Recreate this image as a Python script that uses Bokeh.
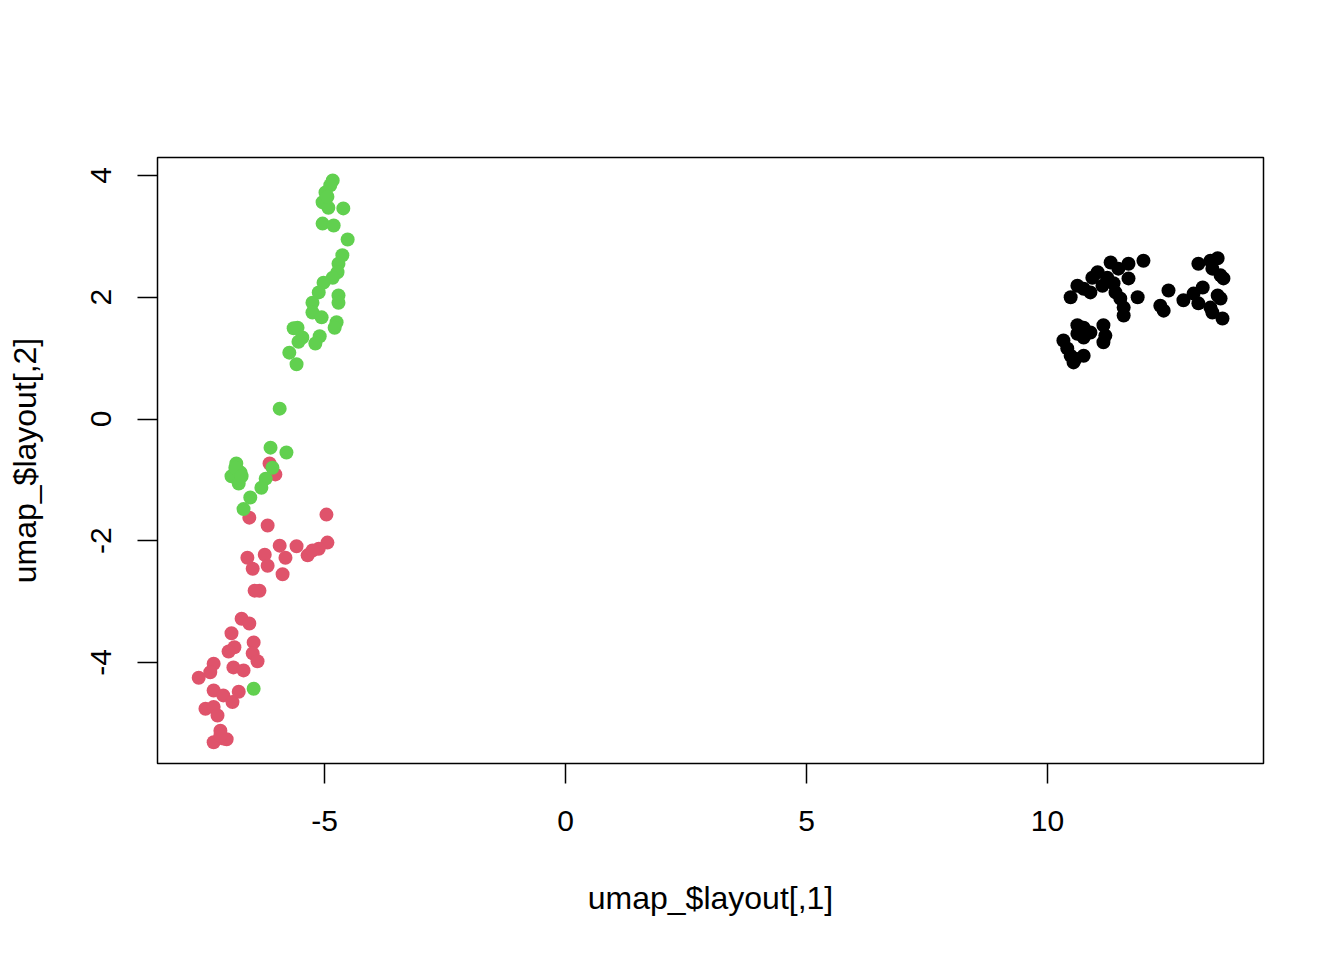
from bokeh.plotting import figure
from bokeh.models import Range1d, FixedTicker
from bokeh.embed import file_html
from bokeh.resources import INLINE

# cluster 1 (black)
black_x = [11.99, 11.68, 11.31, 11.47, 11.68, 11.04, 10.93, 11.24, 11.37, 11.14,
           10.62, 10.75, 10.89, 10.48, 11.41, 11.51, 11.87, 11.58, 11.58, 10.62,
           10.75, 10.89, 11.16, 11.20, 10.75, 10.62, 11.16, 10.33, 10.41, 10.48,
           10.58, 10.75, 10.54, 13.13, 13.38, 13.53, 13.42, 13.59, 13.65, 12.51,
           12.34, 12.41, 12.82, 13.03, 13.22, 13.13, 13.53, 13.59, 13.38, 13.42,
           13.63]
black_y = [2.60, 2.55, 2.57, 2.47, 2.31, 2.41, 2.32, 2.32, 2.23, 2.19,
           2.19, 2.14, 2.08, 2.00, 2.08, 1.98, 2.00, 1.83, 1.70, 1.54,
           1.50, 1.42, 1.54, 1.37, 1.34, 1.40, 1.26, 1.29, 1.16, 1.04,
           0.99, 1.04, 0.93, 2.55, 2.60, 2.64, 2.47, 2.36, 2.31, 2.11,
           1.86, 1.78, 1.95, 2.06, 2.16, 1.90, 2.03, 1.98, 1.83, 1.75,
           1.65]

# cluster 2 (red)
red_x = [-6.14, -6.02, -6.56, -6.18, -4.96, -4.94, -5.12, -5.35, -5.25, -5.58,
         -5.93, -5.81, -6.24, -6.60, -6.49, -6.18, -5.87, -6.35, -6.45, -6.72,
         -6.56, -6.93, -6.47, -6.87, -6.99, -6.49, -6.39, -7.30, -7.37, -7.61,
         -6.89, -6.68, -7.30, -7.10, -6.91, -6.78, -7.47, -7.30, -7.22, -7.16,
         -7.10, -7.30, -7.03, -7.16]
red_y = [-0.73, -0.91, -1.62, -1.75, -1.57, -2.03, -2.13, -2.24, -2.16, -2.09,
         -2.08, -2.28, -2.23, -2.28, -2.46, -2.41, -2.55, -2.82, -2.82, -3.28,
         -3.36, -3.52, -3.67, -3.75, -3.82, -3.85, -3.98, -4.02, -4.16, -4.25,
         -4.08, -4.13, -4.46, -4.54, -4.65, -4.48, -4.76, -4.73, -4.87, -5.12,
         -5.25, -5.31, -5.26, -5.20]

# cluster 3 (green)
green_x = [-4.83, -4.88, -4.98, -5.04, -4.92, -4.61, -5.04, -4.81, -4.52, -4.63,
           -4.71, -4.73, -4.83, -5.02, -5.12, -4.71, -4.71, -5.25, -5.25, -5.06,
           -4.75, -4.79, -5.64, -5.56, -5.46, -5.54, -5.10, -5.19, -5.73, -5.58,
           -5.93, -6.12, -5.79, -6.83, -6.74, -6.93, -6.78, -6.08, -6.22, -6.31,
           -6.54, -6.68, -6.47, -6.85, -6.72, -4.94]
green_y = [3.92, 3.84, 3.72, 3.56, 3.47, 3.46, 3.21, 3.18, 2.95, 2.69,
           2.55, 2.41, 2.32, 2.24, 2.08, 2.03, 1.91, 1.91, 1.75, 1.67,
           1.59, 1.50, 1.49, 1.50, 1.34, 1.27, 1.36, 1.24, 1.09, 0.90,
           0.17, -0.47, -0.55, -0.73, -0.88, -0.94, -1.06, -0.80, -0.98, -1.13,
           -1.29, -1.48, -4.43, -0.80, -0.94, 3.65]

x_ticks = [-5, 0, 5, 10]
x_tick_labels = ["-5", "0", "5", "10"]
y_ticks = [-4, -2, 0, 2, 4]
y_tick_labels = ["-4", "-2", "0", "2", "4"]

FONT = "Liberation Sans"

p = figure(width=1328, height=944, output_backend="svg", toolbar_location=None,
           x_range=Range1d(-8.465, 14.481), y_range=Range1d(-5.659, 4.296),
           frame_width=1106, frame_height=606,
           min_border_left=157, min_border_right=65, min_border_top=157, min_border_bottom=181)

p.grid.visible = False
p.background_fill_color = "white"
p.border_fill_color = "white"
p.outline_line_color = "black"
p.outline_line_width = 1.5

for ax in (p.xaxis[0], p.yaxis[0]):
    ax.axis_line_color = None
    ax.major_tick_in = 0
    ax.major_tick_out = 20
    ax.major_tick_line_width = 1.5
    ax.minor_tick_line_color = None
    ax.major_label_text_font = FONT
    ax.major_label_text_font_size = "30px"
    ax.major_label_text_color = "black"
    ax.axis_label_text_font = FONT
    ax.axis_label_text_font_size = "32px"
    ax.axis_label_text_font_style = "normal"
    ax.axis_label_text_color = "black"

p.xaxis.ticker = FixedTicker(ticks=x_ticks)
p.yaxis.ticker = FixedTicker(ticks=y_ticks)
p.xaxis.major_label_overrides = {t: s for t, s in zip(x_ticks, x_tick_labels)}
p.yaxis.major_label_overrides = {t: s for t, s in zip(y_ticks, y_tick_labels)}
p.xaxis.axis_label = "umap_$layout[,1]"
p.yaxis.axis_label = "umap_$layout[,2]"
p.xaxis.major_label_standoff = 27
p.xaxis.axis_label_standoff = 46
p.yaxis.major_label_orientation = "vertical"
p.yaxis.major_label_standoff = 26
p.yaxis.axis_label_standoff = 46

p.scatter(black_x, black_y, size=14, color="black", line_width=0)
p.scatter(red_x, red_y, size=14, color="#DF536B", line_width=0)
p.scatter(green_x, green_y, size=14, color="#61D04F", line_width=0)

open("out.html", "w").write(file_html(p, INLINE))
